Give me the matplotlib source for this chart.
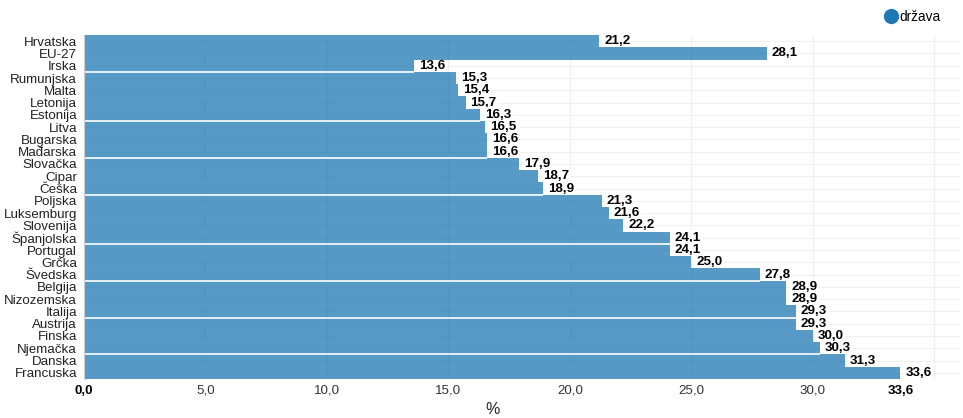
import matplotlib
matplotlib.use("Agg")
import matplotlib.pyplot as plt
from matplotlib.lines import Line2D

countries = ["Hrvatska", "EU-27", "Irska", "Rumunjska", "Malta", "Letonija", "Estonija",
             "Litva", "Bugarska", "Mađarska", "Slovačka", "Cipar", "Češka", "Poljska",
             "Luksemburg", "Slovenija", "Španjolska", "Portugal", "Grčka", "Švedska",
             "Belgija", "Nizozemska", "Italija", "Austrija", "Finska", "Njemačka",
             "Danska", "Francuska"]
values = [21.2, 28.1, 13.6, 15.3, 15.4, 15.7, 16.3, 16.5, 16.6, 16.6, 17.9, 18.7, 18.9,
          21.3, 21.6, 22.2, 24.1, 24.1, 25.0, 27.8, 28.9, 28.9, 29.3, 29.3, 30.0, 30.3,
          31.3, 33.6]
series_name = "država"
x_label = "%"

plt.rcParams['font.family'] = ['Liberation Sans', 'DejaVu Sans']

W, H = 963, 418
fig = plt.figure(figsize=(W / 100, H / 100), dpi=100)
left, right, top, bottom = 84, 960, 35, 379
ax = fig.add_axes([left / W, 1 - bottom / H, (right - left) / W, (bottom - top) / H])

color = "#1f78b4"
n = len(countries)
ypos = list(range(n))
ax.barh(ypos, values, height=1.0, color=color, alpha=0.75, zorder=2, linewidth=0)

# thin white rendering seams seen in the reference
for i in [2, 6, 9, 12, 16, 19, 22, 25]:
    ax.plot([0, values[i]], [i + 0.5, i + 0.5], color="white", lw=1.2, zorder=2.5,
            solid_capstyle="butt")

vmax = max(values)
ax.set_xlim(0, 36.05)
ax.set_ylim(n - 0.5, -0.5)

ax.set_yticks(ypos)
ax.set_yticklabels(countries, fontsize=9.6, color="#222222")
ax.tick_params(axis="y", length=0, pad=5)

xt = [0, 5, 10, 15, 20, 25, 30, vmax]
ax.set_xticks(xt)
ax.set_xticklabels([f"{v:.1f}".replace(".", ",") for v in xt], fontsize=9.6, color="#333333")
ax.tick_params(axis="x", length=0, pad=4)
for lbl, v in zip(ax.get_xticklabels(), xt):
    if v == 0 or v == vmax:
        lbl.set_fontweight("bold")
        lbl.set_color("black")

# grid
for x in [5, 10, 15, 20, 25, 30, 35]:
    ax.axvline(x, color="#eeeeee", lw=0.8, zorder=0)
for y in ypos:
    ax.axhline(y, color="#f0f0f0", lw=0.8, zorder=0)

for s in ["top", "right", "bottom"]:
    ax.spines[s].set_visible(False)
ax.spines["left"].set_color("#cccccc")
ax.spines["left"].set_linewidth(0.8)

for i, v in enumerate(values):
    ax.annotate(f"{v:.1f}".replace(".", ","), xy=(v, i), xytext=(3.5, 0),
                textcoords="offset points", ha="left", va="center",
                fontsize=9.6, fontweight="bold", color="black", zorder=1.5,
                bbox=dict(fc="white", ec="none", pad=1.2))

ax.set_xlabel(x_label, fontsize=11.5, color="#222222")
ax.xaxis.set_label_coords((vmax / 2) / 36.05, -0.068)

handle = Line2D([], [], marker="o", ls="", color=color, markersize=10)
fig.legend([handle], [series_name], loc="center left", bbox_to_anchor=(876 / W, 1 - 17 / H),
           frameon=False, fontsize=9.8, handletextpad=0.0, handlelength=1.2, borderpad=0)

fig.savefig("out.png", dpi=100)
